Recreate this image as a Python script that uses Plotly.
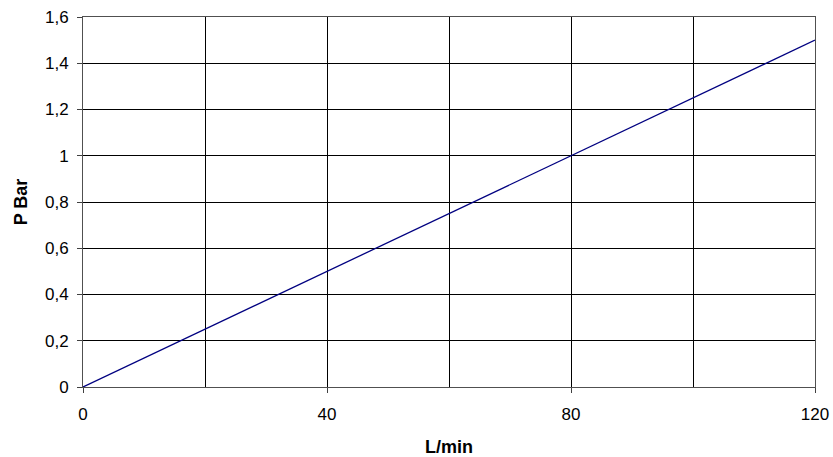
import plotly.graph_objects as go

flow = [0, 20, 40, 60, 80, 100, 120]
pressure = [0, 0.25, 0.5, 0.75, 1.0, 1.25, 1.5]
x_ticks = [0, 40, 80, 120]

fig = go.Figure()
fig.add_trace(go.Scatter(x=flow, y=pressure, mode='lines',
                         line=dict(color='#000080', width=1.3), showlegend=False))

fig.update_xaxes(
    range=[0, 120], tickvals=x_ticks, ticks='outside', ticklen=5, tickcolor='#404040',
    ticklabelstandoff=7,
    showgrid=False, zeroline=False, showline=True, linecolor='#505050', mirror=True,
    minor=dict(dtick=20, tick0=0, showgrid=True, gridcolor='#000000', gridwidth=1),
    title=dict(text='<b>L/min</b>', standoff=18, font=dict(size=18)),
    tickfont=dict(size=17),
)
fig.update_yaxes(
    range=[0, 1.6], dtick=0.2, ticks='outside', ticklen=5, tickcolor='#404040',
    ticklabelstandoff=5,
    showgrid=True, gridcolor='#000000', gridwidth=1, zeroline=False,
    showline=True, linecolor='#505050', mirror=True,
    title=dict(text='<b>P Bar</b>', standoff=12, font=dict(size=18)),
    tickfont=dict(size=17),
)
fig.update_layout(
    width=833, height=457, separators=', ',
    margin=dict(l=83, r=18, t=17, b=70, autoexpand=False),
    plot_bgcolor='white', paper_bgcolor='white',
    font=dict(family='Liberation Sans, Arial', color='#000000'),
)
# drop the default page margin so the figure sits at the window's corner
fig.write_html("out.html", config={'displayModeBar': False},
               post_script="document.body.style.margin='0';")
